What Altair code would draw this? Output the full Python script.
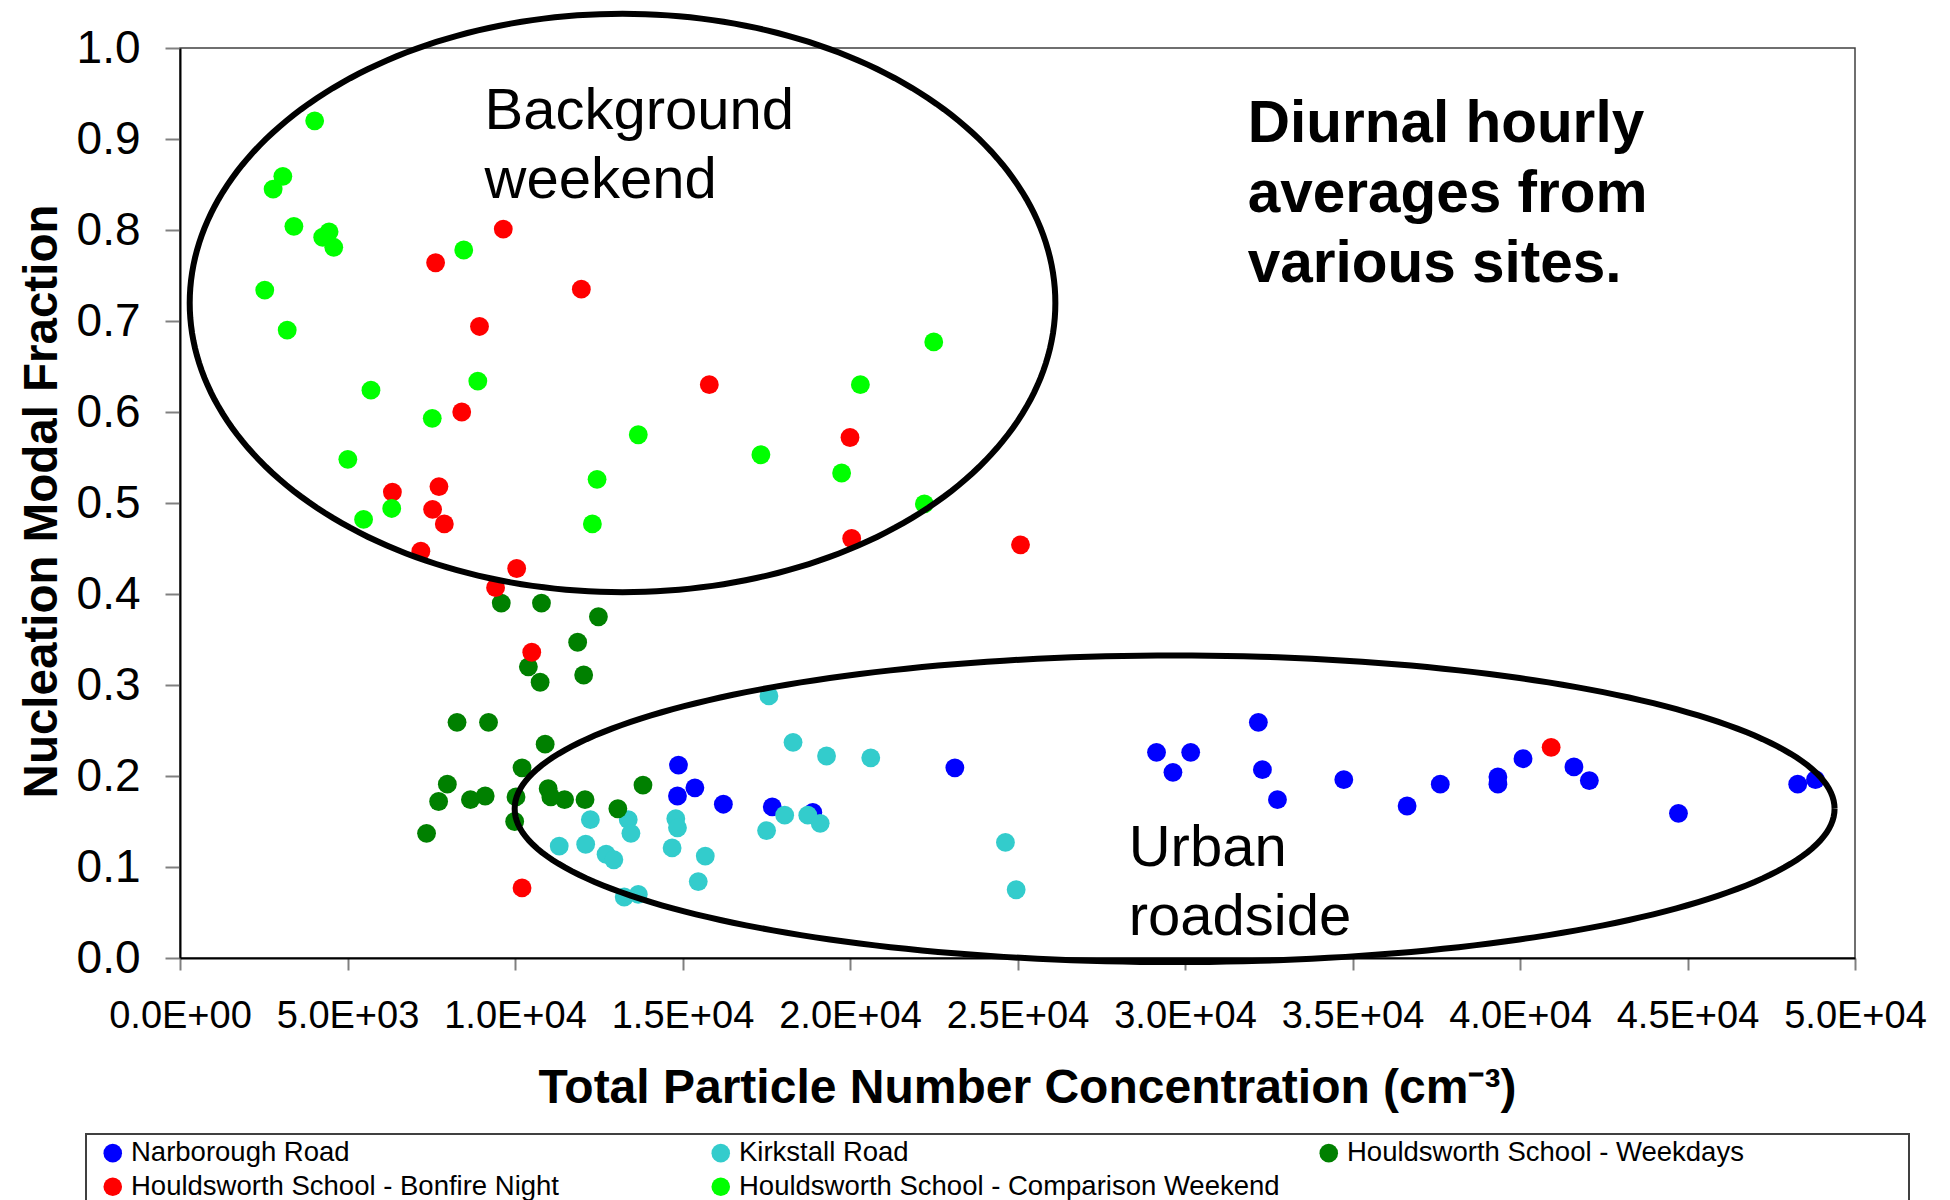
import altair as alt
import numpy as np
import pandas as pd

# Site names (legend order) and their marker colours
series_names = [
    "Narborough Road",
    "Kirkstall Road",
    "Houldsworth School - Weekdays",
    "Houldsworth School - Bonfire Night",
    "Houldsworth School - Comparison Weekend",
]
series_colors = ["#0000FF", "#33CCCC", "#008000", "#FF0000", "#00FF00"]

# Diurnal hourly averages: total particle number (cm^-3) and nucleation modal fraction
narborough_x = [14880, 15370, 14850, 16220, 17680, 18890, 23130, 29150, 30170, 29640, 32190, 32310,
                32760, 34740, 36630, 37620, 39340, 39340, 40090, 41610, 42070, 44730, 48290, 48820]
narborough_y = [0.212, 0.187, 0.178, 0.169, 0.166, 0.160, 0.209, 0.226, 0.226, 0.204, 0.259, 0.207,
                0.174, 0.196, 0.167, 0.191, 0.199, 0.191, 0.219, 0.210, 0.195, 0.159, 0.191, 0.196]

kirkstall_x = [17580, 18300, 19300, 20620, 12250, 13380, 13460, 11320, 12110, 12720, 12950, 14800,
               14850, 14690, 15680, 15470, 13260, 13680, 18050, 17510, 18740, 19110, 24640, 24960]
kirkstall_y = [0.288, 0.237, 0.222, 0.220, 0.152, 0.152, 0.137, 0.123, 0.125, 0.114, 0.108, 0.153,
               0.143, 0.121, 0.112, 0.084, 0.067, 0.070, 0.157, 0.140, 0.157, 0.148, 0.127, 0.075]

weekdays_x = [9590, 10790, 12490, 11870, 10400, 12050, 10750, 8270, 9210, 10900, 10210, 7980,
              7720, 8670, 9110, 10030, 10990, 11070, 11480, 12090, 13070, 13820, 9990, 7360]
weekdays_y = [0.390, 0.390, 0.375, 0.347, 0.320, 0.311, 0.303, 0.259, 0.259, 0.235, 0.209, 0.191,
              0.172, 0.174, 0.178, 0.177, 0.186, 0.177, 0.174, 0.174, 0.164, 0.190, 0.150, 0.137]

bonfire_x = [7630, 9650, 11980, 8940, 8410, 15800, 6340, 7730, 7540, 7890, 7190, 10050,
             9420, 10500, 20000, 20050, 25090, 10210, 40930]
bonfire_y = [0.764, 0.801, 0.735, 0.694, 0.600, 0.630, 0.512, 0.518, 0.493, 0.477, 0.447, 0.428,
             0.407, 0.336, 0.572, 0.461, 0.454, 0.077, 0.2315]

comparison_x = [4020, 3070, 2780, 3400, 4450, 4260, 4590, 2530, 3200, 8470, 8890, 5700,
                7530, 13680, 17340, 5010, 12450, 6320, 5480, 12310, 22500, 20310, 19750, 22220]
comparison_y = [0.920, 0.859, 0.845, 0.804, 0.798, 0.792, 0.781, 0.734, 0.690, 0.778, 0.634, 0.624,
                0.593, 0.575, 0.553, 0.548, 0.526, 0.494, 0.482, 0.477, 0.677, 0.630, 0.533, 0.499]

x_tick_labels = ["0.0E+00", "5.0E+03", "1.0E+04", "1.5E+04", "2.0E+04", "2.5E+04",
                 "3.0E+04", "3.5E+04", "4.0E+04", "4.5E+04", "5.0E+04"]
y_tick_values = [round(i * 0.1, 1) for i in range(11)]

FONT = "Liberation Sans"

frames = []
for name, xs, ys in zip(series_names,
                        [narborough_x, kirkstall_x, weekdays_x, bonfire_x, comparison_x],
                        [narborough_y, kirkstall_y, weekdays_y, bonfire_y, comparison_y]):
    frames.append(pd.DataFrame({"conc": xs, "frac": ys, "site": name}))
points_df = pd.concat(frames, ignore_index=True)

x_scale = alt.Scale(domain=[0, 50000], nice=False, zero=False)
y_scale = alt.Scale(domain=[0, 1], nice=False)

label_expr = "[" + ",".join(f"'{s}'" for s in x_tick_labels) + "][round(datum.value / 5000)]"

x_axis = alt.Axis(
    values=list(range(0, 50001, 5000)),
    labelExpr=label_expr,
    grid=False,
    domainColor="#000000", domainWidth=2,
    tickColor="#808080", tickWidth=2, tickSize=12,
    labelFont=FONT, labelFontSize=38, labelColor="#000000",
    labelBaseline="alphabetic", labelPadding=57,
    labelFlush=False, labelOverlap=False,
    title="Total Particle Number Concentration (cm\u207b\u00b3)",
    titleFont=FONT, titleFontSize=48, titleFontWeight="bold", titleColor="#000000",
    titleBaseline="alphabetic", titleAlign="center", titleX=847, titleY=144,
)
y_axis = alt.Axis(
    values=y_tick_values, format=".1f",
    grid=False,
    domainColor="#000000", domainWidth=2,
    tickColor="#808080", tickWidth=2, tickSize=15,
    labelFont=FONT, labelFontSize=46, labelColor="#000000", labelPadding=25,
    labelFlush=False, labelOverlap=False,
    title="Nucleation Modal Fraction",
    titleFont=FONT, titleFontSize=47.5, titleFontWeight="bold", titleColor="#000000",
    titleAngle=-90, titleBaseline="alphabetic", titleAlign="center", titleX=-124, titleY=453,
)

legend = alt.Legend(
    title=None, orient="none", legendX=-81, legendY=1091,
    direction="horizontal", columns=3, gridAlign="all",
    columnPadding=35, rowPadding=5, padding=0,
    labelFont=FONT, labelFontSize=27.5, labelColor="#000000", labelLimit=2000, labelOffset=4.5,
    symbolType="circle", symbolSize=345, symbolStrokeWidth=0, symbolOpacity=1,
)

points = alt.Chart(points_df).mark_circle(size=355, opacity=1).encode(
    x=alt.X("conc:Q", scale=x_scale, axis=x_axis),
    y=alt.Y("frac:Q", scale=y_scale, axis=y_axis),
    color=alt.Color("site:N", scale=alt.Scale(domain=series_names, range=series_colors), legend=legend),
)

# Two hand-drawn grouping ellipses (centre and semi-axes in data units)
ellipses = {
    "background": (13210, 0.7198, 12920, 0.3178),
    "urban": (29690, 0.164, 19700, 0.1685),
}
t = np.linspace(0, 2 * np.pi, 241)
ell_frames = []
for key, (cx, cy, rx, ry) in ellipses.items():
    ell_frames.append(pd.DataFrame({
        "conc": cx + rx * np.cos(t), "frac": cy + ry * np.sin(t), "t": np.arange(len(t)), "group": key,
    }))
ell_df = pd.concat(ell_frames, ignore_index=True)

ellipse_lines = alt.Chart(ell_df).mark_line(color="#000000", strokeWidth=6).encode(
    x=alt.X("conc:Q", scale=x_scale),
    y=alt.Y("frac:Q", scale=y_scale),
    detail="group:N",
    order="t:Q",
)

notes_df = pd.DataFrame({
    "conc": [9090, 28320],
    "frac": [0.9112, 0.1016],
    "label": [["Background", "weekend"], ["Urban", "roadside"]],
})
notes = alt.Chart(notes_df).mark_text(
    align="left", baseline="alphabetic", font=FONT, fontSize=58, lineHeight=69, color="#000000"
).encode(
    x=alt.X("conc:Q", scale=x_scale),
    y=alt.Y("frac:Q", scale=y_scale),
    text="label",
)

heading_df = pd.DataFrame({
    "conc": [31870], "frac": [0.8965],
    "label": [["Diurnal hourly", "averages from", "various sites."]],
})
heading = alt.Chart(heading_df).mark_text(
    align="left", baseline="alphabetic", font=FONT, fontSize=58.5, fontWeight="bold",
    lineHeight=70, color="#000000"
).encode(
    x=alt.X("conc:Q", scale=x_scale),
    y=alt.Y("frac:Q", scale=y_scale),
    text="label",
)

legend_box = alt.Chart(pd.DataFrame({"k": [0]})).mark_rect(
    filled=False, stroke="#404040", strokeWidth=2
).encode(
    x=alt.value(-94), x2=alt.value(1729), y=alt.value(1086), y2=alt.value(1230),
)

chart = alt.layer(points, ellipse_lines, notes, heading, legend_box).properties(
    width=1675, height=910,
    autosize=alt.AutoSizeParams(type="none"),
    padding={"left": 180, "top": 48, "right": 95, "bottom": 242},
    background="#FFFFFF",
).configure_view(stroke="#404040", strokeWidth=1.5)

chart.save("out.html", embed_options={"renderer": "svg", "actions": False})
